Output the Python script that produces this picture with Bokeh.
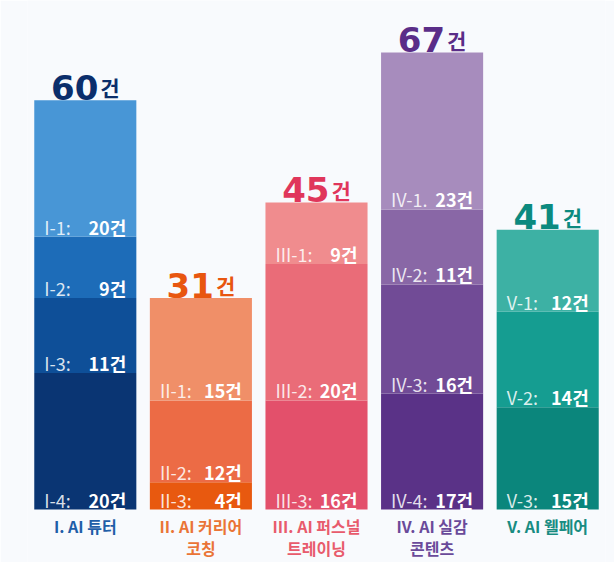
from bokeh.plotting import figure
from bokeh.models import ColumnDataSource, FactorRange, Range1d
from bokeh.core.properties import value
from bokeh.embed import file_html
from bokeh.resources import INLINE

# ---- data ----
categories = ["I", "II", "III", "IV", "V"]
category_titles = ["I. AI 튜터", "II. AI 커리어\n코칭", "III. AI 퍼스널\n트레이닝",
                   "IV. AI 실감\n콘텐츠", "V. AI 웰페어"]
totals = [60, 31, 45, 67, 41]
# segments listed top -> bottom
segment_codes = [["I-1:", "I-2:", "I-3:", "I-4:"],
                 ["II-1:", "II-2:", "II-3:"],
                 ["III-1:", "III-2:", "III-3:"],
                 ["IV-1.", "IV-2:", "IV-3:", "IV-4:"],
                 ["V-1:", "V-2:", "V-3:"]]
segment_values = [[20, 9, 11, 20],
                  [15, 12, 4],
                  [9, 20, 16],
                  [23, 11, 16, 17],
                  [12, 14, 15]]
segment_colors = [["#4896d6", "#1d6cb8", "#0e4f98", "#0a3573"],
                  ["#f08f68", "#ec6b45", "#e8590f"],
                  ["#f08c8e", "#ea6c78", "#e3506b"],
                  ["#a78cbd", "#8967a6", "#714b96", "#5a3287"],
                  ["#3db1a4", "#159d91", "#0b867c"]]
total_colors = ["#0b2e6b", "#e8560f", "#e0365b", "#5a2d88", "#0c8a7f"]
title_colors = ["#1f5ea8", "#ea7436", "#e85b6c", "#6a4a9a", "#188c82"]
unit = "건"

# ---- build stacked segments ----
xs, bottoms, tops, cols, codes, nums = [], [], [], [], [], []
for cat, cds, vals, clrs in zip(categories, segment_codes, segment_values, segment_colors):
    base = 0
    for code, v, c in reversed(list(zip(cds, vals, clrs))):
        xs.append(cat)
        bottoms.append(base)
        tops.append(base + v)
        cols.append(c)
        codes.append(code)
        nums.append(f"{v}{unit}")
        base += v

src = ColumnDataSource(dict(x=xs, bottom=bottoms, top=tops, color=cols, code=codes, num=nums))

BG = "#f8fafd"
p = figure(x_range=FactorRange(factors=categories, range_padding=0),
           y_range=Range1d(-7.77, 74.63),
           width=614, height=562, output_backend="svg", toolbar_location=None,
           x_axis_location=None, y_axis_location=None,
           min_border_left=27, min_border_right=9, min_border_top=0, min_border_bottom=0)
p.grid.visible = False
p.outline_line_color = None
p.background_fill_color = BG
p.border_fill_color = BG

p.vbar(x="x", bottom="bottom", top="top", width=0.883, fill_color="color",
       line_color=None, source=src)

KR = value("Noto Sans CJK KR")
p.text(x="x", y="bottom", text="code", x_offset=-41, y_offset=-10,
       text_align="left", text_baseline="alphabetic", text_color="white", text_alpha=0.85,
       text_font=KR, text_font_size="18px", source=src)
p.text(x="x", y="bottom", text="num", x_offset=41, y_offset=-10,
       text_align="right", text_baseline="alphabetic", text_color="white",
       text_font=KR, text_font_style="bold", text_font_size="18px", source=src)

tsrc = ColumnDataSource(dict(x=categories, y=totals, t=[str(t) for t in totals],
                             u=[unit] * len(totals), c=total_colors))
p.text(x="x", y="y", text="t", x_offset=13, y_offset=-13, text_align="right",
       text_baseline="alphabetic", text_color="c", text_font=value("DejaVu Sans"),
       text_font_style="bold", text_font_size="34px", source=tsrc)
p.text(x="x", y="y", text="u", x_offset=15, y_offset=-13, text_align="left",
       text_baseline="alphabetic", text_color="c", text_font=KR,
       text_font_style="bold", text_font_size="21px", source=tsrc)

csrc = ColumnDataSource(dict(x=categories, y=[0] * len(categories), t=category_titles, c=title_colors))
p.text(x="x", y="y", text="t", y_offset=4, text_align="center", text_baseline="top",
       text_color="c", text_font=KR, text_font_style="bold", text_font_size="16px",
       text_line_height=0.92, source=csrc)

open("out.html", "w").write(file_html(p, INLINE))
